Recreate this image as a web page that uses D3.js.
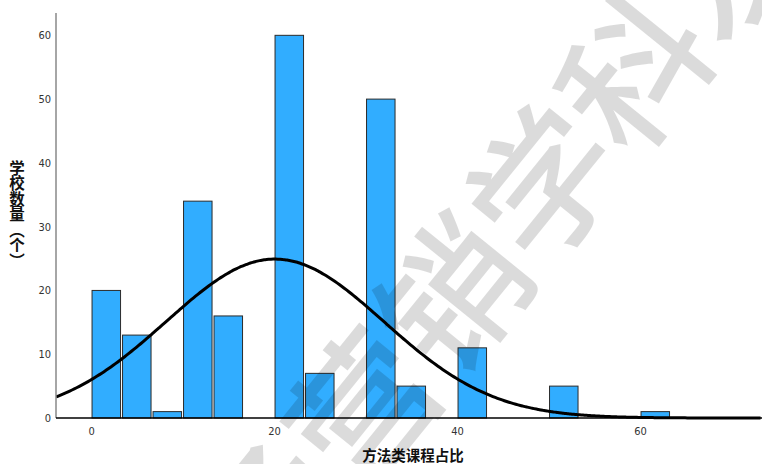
<!DOCTYPE html>
<html>
<head>
<meta charset="utf-8">
<script src="https://cdn.jsdelivr.net/npm/d3@7"></script>
<style>
  html, body { margin: 0; padding: 0; background: #fff; }
  svg { display: block; }
</style>
</head>
<body>
<svg id="chart" width="762" height="464"></svg>
<script>
// Histogram bins: lower edge of each bin (percent) and the school count in it
const binStarts = [0, 3.333, 6.667, 10, 13.333, 16.667, 20, 23.333, 26.667, 30, 33.333, 36.667, 40, 43.333, 46.667, 50, 53.333, 56.667, 60];
const binWidth = 10 / 3;
const counts = [20, 13, 1, 34, 16, 0, 60, 7, 0, 50, 5, 0, 11, 0, 0, 5, 0, 0, 1];

// Fitted normal curve
const curveMean = 20.1;
const curveSd = 11.9;

const xTicks = [0, 20, 40, 60];
const yTicks = [0, 10, 20, 30, 40, 50, 60];

const xTitle = "方法类课程占比";
const yTitle = "学校数量（个）";
const watermark = "市场营销学科发展";

const svg = d3.select("#chart");

const plotLeft = 56, plotRight = 762, plotTop = 13, plotBottom = 418;

const x = d3.scaleLinear().domain([-3.83, 73.33]).range([plotLeft, plotRight]);
const y = d3.scaleLinear().domain([0, 63.5]).range([plotBottom, plotTop]);

// Bars
const bins = binStarts.map((s, i) => ({ x0: s, x1: s + binWidth, n: counts[i] }))
  .filter(d => d.n > 0);

svg.append("g")
  .selectAll("rect")
  .data(bins)
  .join("rect")
  .attr("x", d => x(d.x0) + 1)
  .attr("width", d => x(d.x1) - x(d.x0) - 2)
  .attr("y", d => y(d.n))
  .attr("height", d => y(0) - y(d.n))
  .attr("fill", "#31adff")
  .attr("stroke", "#2b2b2b")
  .attr("stroke-width", 1);

// Normal curve scaled to counts
const total = d3.sum(counts);
const pdf = v => total * binWidth / (curveSd * Math.sqrt(2 * Math.PI)) *
  Math.exp(-((v - curveMean) ** 2) / (2 * curveSd * curveSd));
const curveX = d3.range(x.domain()[0], x.domain()[1] + 0.01, 0.25);

svg.append("defs").append("clipPath").attr("id", "plot")
  .append("rect").attr("x", plotLeft).attr("y", plotTop)
  .attr("width", plotRight - plotLeft).attr("height", plotBottom - plotTop + 2);

svg.append("path")
  .datum(curveX)
  .attr("clip-path", "url(#plot)")
  .attr("fill", "none")
  .attr("stroke", "#000")
  .attr("stroke-width", 3)
  .attr("d", d3.line().x(d => x(d)).y(d => y(pdf(d))).curve(d3.curveBasis));

// Axes
const yAxis = d3.axisLeft(y).tickValues(yTicks).tickSize(0).tickPadding(5).tickFormat(d3.format("d"));
const gy = svg.append("g").attr("transform", `translate(${plotLeft},0)`).call(yAxis);
gy.select(".domain").attr("stroke", "#888").attr("stroke-width", 1.5).attr("d", `M0,${plotTop}V${plotBottom}`);

const xAxis = d3.axisBottom(x).tickValues(xTicks).tickSize(0).tickPadding(9).tickFormat(d3.format("d"));
const gx = svg.append("g").attr("transform", `translate(0,${plotBottom})`).call(xAxis);
gx.select(".domain").attr("stroke", "#000").attr("stroke-width", 1.5).attr("d", `M${plotLeft},0H${plotRight}`);

svg.selectAll(".tick text")
  .attr("font-family", "'DejaVu Sans Condensed', 'DejaVu Sans', sans-serif")
  .attr("font-stretch", "condensed")
  .attr("font-size", 11)
  .attr("fill", "#333");

// Titles
svg.append("text")
  .attr("x", 413).attr("y", 461)
  .attr("text-anchor", "middle")
  .attr("font-family", "'Noto Sans CJK SC', sans-serif")
  .attr("font-weight", "bold")
  .attr("font-size", 14.5)
  .attr("fill", "#111")
  .text(xTitle);

svg.append("text")
  .attr("x", 17).attr("y", 160)
  .attr("writing-mode", "vertical-rl")
  .style("writing-mode", "vertical-rl")
  .attr("font-family", "'Noto Sans CJK SC', sans-serif")
  .attr("font-weight", "bold")
  .attr("font-size", 15.5)
  .attr("fill", "#111")
  .text(yTitle);

// Watermark overlay
svg.append("text")
  .attr("transform", "translate(492,234) rotate(-51)")
  .attr("text-anchor", "middle")
  .attr("dominant-baseline", "central")
  .attr("font-family", "'Noto Sans CJK SC', sans-serif")
  .attr("font-weight", 500)
  .attr("font-size", 144)
  .attr("fill", "rgba(0,0,0,0.14)")
  .text(watermark);
</script>
</body>
</html>
